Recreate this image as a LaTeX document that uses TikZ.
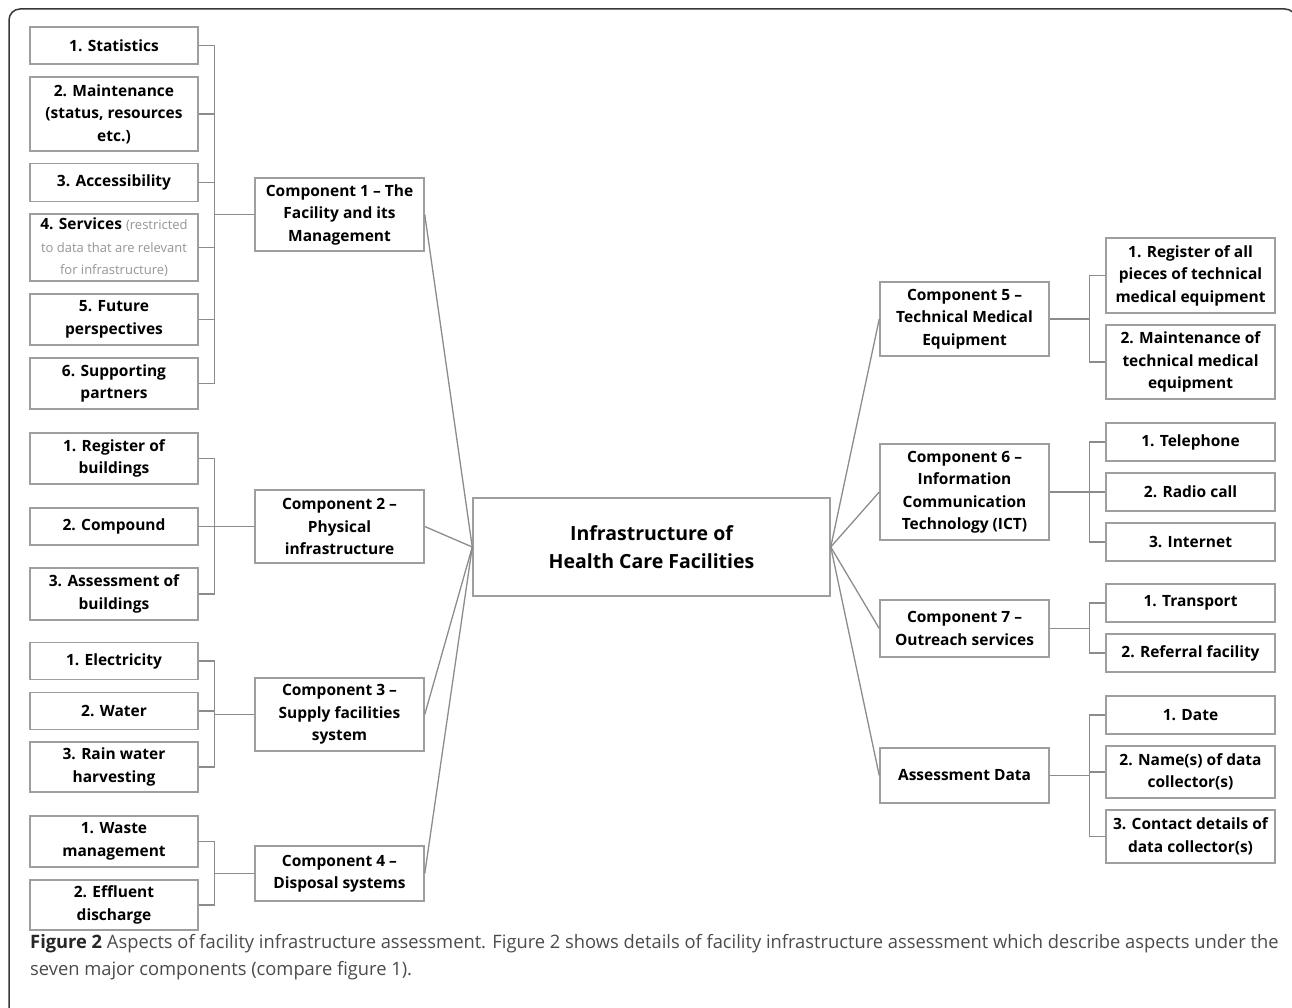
\documentclass[tikz,border=0pt]{standalone}
\usepackage{fontspec}
\setmainfont{Open Sans}
\newfontfamily\capfont[FakeStretch=0.99]{Open Sans}
\usetikzlibrary{positioning}
\definecolor{boxgray}{RGB}{158,158,158}
\definecolor{linkgray}{RGB}{140,140,140}
\definecolor{softgray}{RGB}{150,150,150}
\definecolor{capgray}{RGB}{75,75,75}
\definecolor{framegray}{RGB}{55,55,55}

\begin{document}
\begin{tikzpicture}[x=1pt, y=-1pt,
      box/.style={draw=boxgray, line width=1.5pt, fill=white,
                  minimum width=169pt, inner sep=0pt,
                  align=center, font=\fontsize{15.5}{22.5}\selectfont\bfseries},
      leaf/.style={box, minimum width=168pt},
      hub/.style={box, minimum width=357pt, minimum height=98pt,
                  font=\fontsize{19.5}{28.5}\selectfont\bfseries},
      link/.style={draw=linkgray, line width=1.3pt}
    ]
    \useasboundingbox (0,0) rectangle (1292,1008);
    \draw[framegray, line width=1.5pt, rounded corners=11pt]
      (9,1012) -- (9,9) -- (1296,9) -- (1296,1012);

    % centre
    \node[hub] (hub) at (651.5,547) {Infrastructure of\\Health Care Facilities};

    % component 1
    \node[box, minimum height=73pt] (comp1) at (339.5,214.5) {Component 1 – The\\Facility and its\\Management};
    \node[leaf, minimum height=37pt] (stat) at (114,45.5) {1. Statistics};
    \node[leaf, minimum height=74pt] (maint) at (114,114) {2. Maintenance\\(status, resources\\etc.)};
    \node[leaf, minimum height=38pt] (access) at (114,182.5) {3. Accessibility};
    \node[leaf, minimum height=67pt] (serv) at (114,247.5)
      {4. Services {\fontsize{13}{20}\selectfont\mdseries\color{softgray}(restricted}\\
       {\fontsize{13}{20}\selectfont\mdseries\color{softgray}to data that are relevant}\\
       {\fontsize{13}{20}\selectfont\mdseries\color{softgray}for infrastructure)}};
    \node[leaf, minimum height=51pt] (future) at (114,319.5) {5. Future\\perspectives};
    \node[leaf, minimum height=51pt] (partner) at (114,383.5) {6. Supporting\\partners};

    % component 2
    \node[box, minimum height=73pt] (comp2) at (339.5,526.5) {Component 2 –\\Physical\\infrastructure};
    \node[leaf, minimum height=51pt] (regbuild) at (114,458.5) {1. Register of\\buildings};
    \node[leaf, minimum height=37pt] (compound) at (114,526.5) {2. Compound};
    \node[leaf, minimum height=52pt] (assbuild) at (114,594) {3. Assessment of\\buildings};

    % component 3
    \node[box, minimum height=73pt] (comp3) at (339.5,714.5) {Component 3 –\\Supply facilities\\system};
    \node[leaf, minimum height=37pt] (elec) at (114,661) {1. Electricity};
    \node[leaf, minimum height=37pt] (water) at (114,711) {2. Water};
    \node[leaf, minimum height=50pt] (rain) at (114,767) {3. Rain water\\harvesting};

    % component 4
    \node[box, minimum height=55pt] (comp4) at (339.5,873.5) {Component 4 –\\Disposal systems};
    \node[leaf, minimum height=51pt] (waste) at (114,841.5) {1. Waste\\management};
    \node[leaf, minimum height=50pt] (effl) at (114,905) {2. Effluent\\discharge};

    % component 5
    \node[box, minimum height=74pt] (comp5) at (964.5,319) {Component 5 –\\Technical Medical\\Equipment};
    \node[box, minimum height=75pt] (regequip) at (1190.5,275.5) {1. Register of all\\pieces of technical\\medical equipment};
    \node[box, minimum height=74pt] (maintequip) at (1190.5,362) {2. Maintenance of\\technical medical\\equipment};

    % component 6
    \node[box, minimum height=96pt] (comp6) at (964.5,492) {Component 6 –\\Information\\Communication\\Technology (ICT)};
    \node[box, minimum height=38pt] (phone) at (1190.5,442) {1. Telephone};
    \node[box, minimum height=38pt] (radio) at (1190.5,492) {2. Radio call};
    \node[box, minimum height=38pt] (inet) at (1190.5,542) {3. Internet};

    % component 7
    \node[box, minimum height=57pt] (comp7) at (964.5,628.5) {Component 7 –\\Outreach services};
    \node[box, minimum height=38pt] (transp) at (1190.5,603) {1. Transport};
    \node[box, minimum height=38pt] (referral) at (1190.5,653) {2. Referral facility};

    % assessment data
    \node[box, minimum height=55pt] (adata) at (964.5,775.5) {Assessment Data};
    \node[box, minimum height=38pt] (date) at (1190.5,715) {1. Date};
    \node[box, minimum height=52pt] (names) at (1190.5,772) {2. Name(s) of data\\collector(s)};
    \node[box, minimum height=53pt] (contact) at (1190.5,836.5) {3. Contact details of\\data collector(s)};

    % spokes
    \draw[link] (comp1.east) -- (hub.west);
    \draw[link] (comp2.east) -- (hub.west);
    \draw[link] (comp3.east) -- (hub.west);
    \draw[link] (comp4.east) -- (hub.west);
    \draw[link] (hub.east) -- (comp5.west);
    \draw[link] (hub.east) -- (comp6.west);
    \draw[link] (hub.east) -- (comp7.west);
    \draw[link] (hub.east) -- (adata.west);

    % brackets, left
    \draw[link] (comp1.west) -- +(-40,0) |- (stat.east);
    \draw[link] (comp1.west) -- +(-40,0) |- (maint.east);
    \draw[link] (comp1.west) -- +(-40,0) |- (access.east);
    \draw[link] (comp1.west) -- +(-40,0) |- (serv.east);
    \draw[link] (comp1.west) -- +(-40,0) |- (future.east);
    \draw[link] (comp1.west) -- +(-40,0) |- (partner.east);
    \draw[link] (comp2.west) -- +(-40,0) |- (regbuild.east);
    \draw[link] (comp2.west) -- +(-40,0) |- (compound.east);
    \draw[link] (comp2.west) -- +(-40,0) |- (assbuild.east);
    \draw[link] (comp3.west) -- +(-40,0) |- (elec.east);
    \draw[link] (comp3.west) -- +(-40,0) |- (water.east);
    \draw[link] (comp3.west) -- +(-40,0) |- (rain.east);
    \draw[link] (comp4.west) -- +(-40,0) |- (waste.east);
    \draw[link] (comp4.west) -- +(-40,0) |- (effl.east);

    % brackets, right
    \draw[link] (comp5.east) -- +(40,0) |- (regequip.west);
    \draw[link] (comp5.east) -- +(40,0) |- (maintequip.west);
    \draw[link] (comp6.east) -- +(40,0) |- (phone.west);
    \draw[link] (comp6.east) -- +(40,0) |- (radio.west);
    \draw[link] (comp6.east) -- +(40,0) |- (inet.west);
    \draw[link] (comp7.east) -- +(40,0) |- (transp.west);
    \draw[link] (comp7.east) -- +(40,0) |- (referral.west);
    \draw[link] (adata.east) -- +(40,0) |- (date.west);
    \draw[link] (adata.east) -- +(40,0) |- (names.west);
    \draw[link] (adata.east) -- +(40,0) |- (contact.west);

    % caption
    \node[anchor=base west, align=left, inner sep=0pt, text=capgray,
          font=\capfont\fontsize{18.5}{27}\selectfont] (caption) at (30,975)
      {\textcolor{black!85}{\textbf{Figure 2}} Aspects of facility infrastructure assessment. Figure 2 shows details of facility infrastructure assessment which describe aspects under the\\
       seven major components (compare figure 1).};
  \end{tikzpicture}
\end{document}
